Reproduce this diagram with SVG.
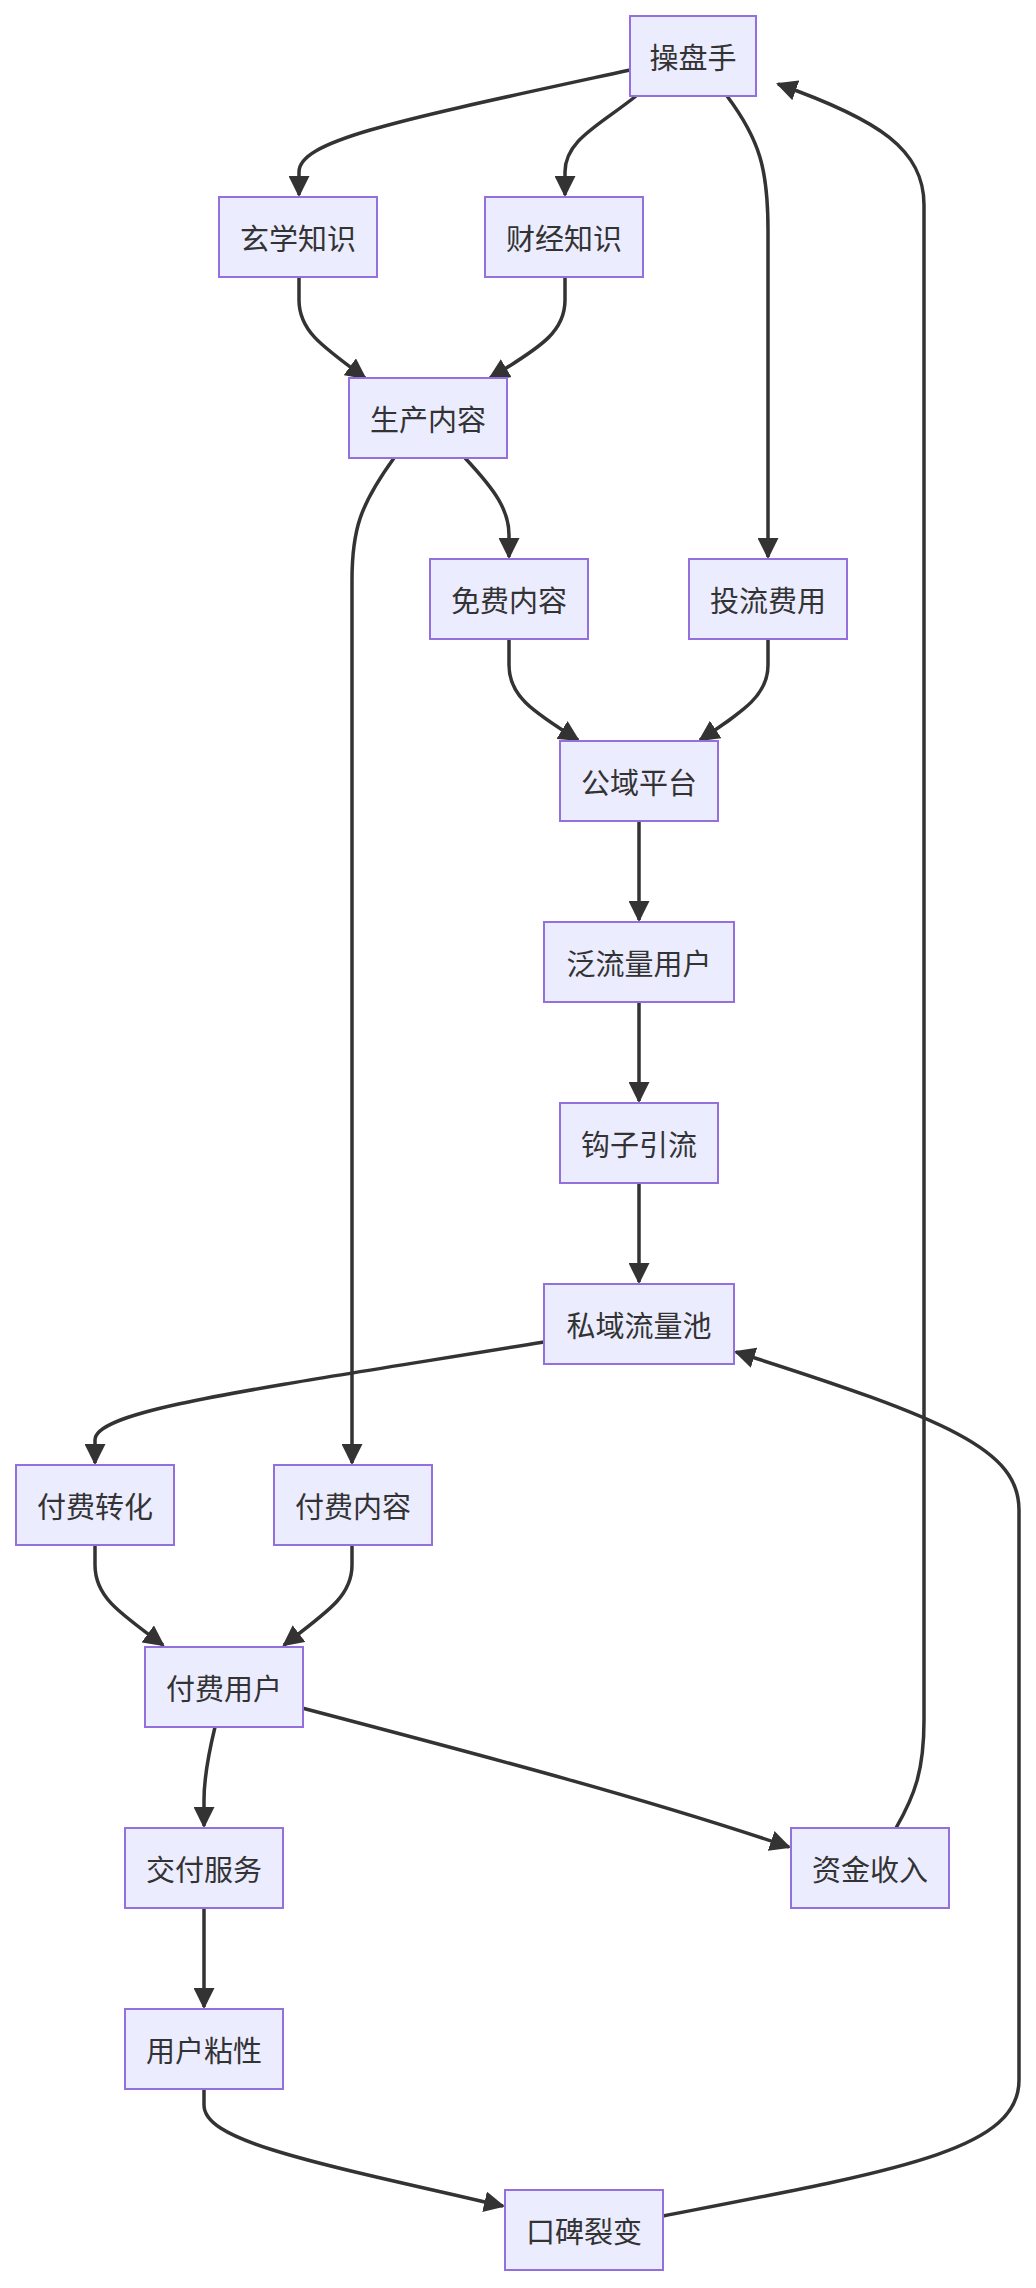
<svg xmlns="http://www.w3.org/2000/svg" width="1036" height="2288" viewBox="0 0 1036 2288">
<style>
.n rect{fill:#ececff;stroke:#9370db;stroke-width:2}
.n text{font-family:"Noto Sans CJK SC",sans-serif;font-size:29px;fill:#333;text-anchor:middle;dominant-baseline:central}
.e path{fill:none;stroke:#333;stroke-width:3.5;marker-end:url(#ah)}
</style>
<defs><marker id="ah" viewBox="0 0 10 10" refX="9" refY="5" markerWidth="6" markerHeight="6" markerUnits="strokeWidth" orient="auto"><path d="M0,0 L10,5 L0,10 z" fill="#333"/></marker></defs>
<rect width="1036" height="2288" fill="#fff"/>
<g id="connectors" class="e">
<path d="M630,70 C400,120 299,140 299,172 L299,195"/>
<path d="M636,96 C600,125 565,140 565,172 L565,195"/>
<path d="M727,96 C760,140 768,170 768,230 L768,557"/>
<path d="M896,1828 C915,1795 924,1770 924,1720 L924,205 C924,150 880,120 778,84"/>
<path d="M299,277 L299,300 C299,330 320,345 365,378"/>
<path d="M565,277 L565,300 C565,330 545,345 490,378"/>
<path d="M465,458 C495,490 509,510 509,535 L509,557"/>
<path d="M394,458 C360,505 352,530 352,580 L352,1463"/>
<path d="M509,639 L509,665 C509,695 530,710 578,740"/>
<path d="M768,639 L768,665 C768,695 745,710 700,740"/>
<path d="M639,821 L639,920"/>
<path d="M639,1002 L639,1101"/>
<path d="M639,1183 L639,1282"/>
<path d="M544,1342 C250,1390 95,1410 95,1440 L95,1463"/>
<path d="M663,2216 C900,2170 1019,2150 1019,2080 L1019,1510 C1019,1450 950,1420 736,1352"/>
<path d="M95,1545 L95,1565 C95,1595 115,1610 163,1645"/>
<path d="M352,1545 L352,1565 C352,1595 330,1610 284,1645"/>
<path d="M215,1727 C207,1760 204,1780 204,1800 L204,1826"/>
<path d="M302,1708 C500,1760 650,1800 789,1847"/>
<path d="M204,1908 L204,2007"/>
<path d="M204,2089 L204,2105 C204,2140 300,2160 503,2206"/>
</g>
<g id="n1" class="n"><rect x="630" y="16" width="126" height="80"/><text x="693" y="56">操盘手</text></g>
<g id="n2" class="n"><rect x="219" y="197" width="158" height="80"/><text x="298" y="237">玄学知识</text></g>
<g id="n3" class="n"><rect x="485" y="197" width="158" height="80"/><text x="564" y="237">财经知识</text></g>
<g id="n4" class="n"><rect x="349" y="378" width="158" height="80"/><text x="428" y="418">生产内容</text></g>
<g id="n5" class="n"><rect x="430" y="559" width="158" height="80"/><text x="509" y="599">免费内容</text></g>
<g id="n6" class="n"><rect x="689" y="559" width="158" height="80"/><text x="768" y="599">投流费用</text></g>
<g id="n7" class="n"><rect x="560" y="741" width="158" height="80"/><text x="639" y="781">公域平台</text></g>
<g id="n8" class="n"><rect x="544" y="922" width="190" height="80"/><text x="639" y="962">泛流量用户</text></g>
<g id="n9" class="n"><rect x="560" y="1103" width="158" height="80"/><text x="639" y="1143">钩子引流</text></g>
<g id="n10" class="n"><rect x="544" y="1284" width="190" height="80"/><text x="639" y="1324">私域流量池</text></g>
<g id="n11" class="n"><rect x="16" y="1465" width="158" height="80"/><text x="95" y="1505">付费转化</text></g>
<g id="n12" class="n"><rect x="274" y="1465" width="158" height="80"/><text x="353" y="1505">付费内容</text></g>
<g id="n13" class="n"><rect x="145" y="1647" width="158" height="80"/><text x="224" y="1687">付费用户</text></g>
<g id="n14" class="n"><rect x="125" y="1828" width="158" height="80"/><text x="204" y="1868">交付服务</text></g>
<g id="n15" class="n"><rect x="791" y="1828" width="158" height="80"/><text x="870" y="1868">资金收入</text></g>
<g id="n16" class="n"><rect x="125" y="2009" width="158" height="80"/><text x="204" y="2049">用户粘性</text></g>
<g id="n17" class="n"><rect x="505" y="2190" width="158" height="80"/><text x="584" y="2230">口碑裂变</text></g>
</svg>
